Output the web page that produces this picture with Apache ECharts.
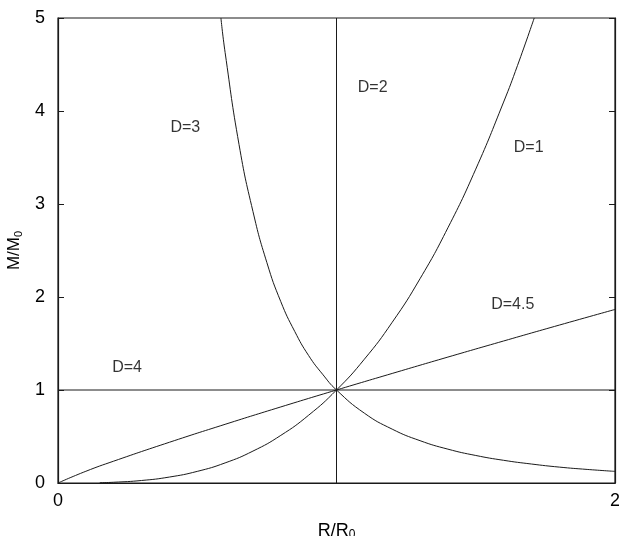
<!DOCTYPE html>
<html>
<head>
<meta charset="utf-8">
<script src="https://cdn.jsdelivr.net/npm/echarts@6/dist/echarts.min.js"></script>
<style>html,body{margin:0;padding:0;background:#fff;overflow:hidden;}#c{position:fixed;left:0;top:0;width:619px;height:536px;}</style>
</head>
<body>
<div id="c"></div>
<script>
// D=1 curve
const d1R = [0.15,0.2,0.3,0.4,0.5,0.6,0.7,0.8,0.9,1.0,1.1,1.2,1.3,1.4,1.5,1.6,1.65,1.71];
const d1M = [0.003,0.008,0.027,0.064,0.125,0.216,0.343,0.512,0.729,1,1.331,1.728,2.197,2.744,3.375,4.096,4.49,5.0];
// D=3 curve
const d3R = [0.585,0.6,0.65,0.7,0.75,0.8,0.85,0.9,0.95,1.0,1.1,1.2,1.3,1.4,1.5,1.6,1.7,1.8,1.9,2.0];
const d3M = [5.0,4.63,3.64,2.92,2.37,1.95,1.63,1.37,1.17,1.0,0.751,0.579,0.455,0.364,0.296,0.244,0.204,0.171,0.146,0.125];
// D=4.5 curve
const d45R = [0,0.1,0.2,0.4,0.6,0.8,1.0,1.2,1.4,1.6,1.8,2.0];
const d45M = [0,0.126,0.235,0.438,0.631,0.818,1.0,1.178,1.354,1.527,1.698,1.866];
// D=2 vertical line, D=4 horizontal line
const d2R = [1,1];
const d2M = [0,5];
const d4R = [0,2];
const d4M = [1,1];
// curve labels
const labelText = ['D=2','D=3','D=1','D=4.5','D=4'];
const labelR = [1.13,0.457,1.69,1.633,0.248];
const labelM = [4.25,3.82,3.61,1.92,1.24];

const zip = (a,b)=>a.map((v,i)=>[v,b[i]]);
const lineStyle = {color:'#1a1a1a', width:1};
const mk = d => ({type:'line', data:d, showSymbol:false, smooth:true, lineStyle:lineStyle, silent:true});
const font = 'Liberation Sans, Arial, Helvetica, sans-serif';

const chart = echarts.init(document.getElementById('c'));
chart.setOption({
  animation:false,
  backgroundColor:'#fff',
  grid:{left:58, right:4, top:18, bottom:53, containLabel:false, outerBoundsMode:'none',
        show:true, borderColor:'#1a1a1a', borderWidth:1.2},
  xAxis:{type:'value', min:0, max:2, interval:2,
    axisLine:{show:true, lineStyle:{color:'#1a1a1a', width:1.2}},
    axisTick:{show:false}, splitLine:{show:false},
    axisLabel:{color:'#000', fontSize:18, fontFamily:font, margin:9},
    name:'{a|R/R}{b|0}', nameLocation:'middle', nameGap:38,
    nameTextStyle:{rich:{a:{fontSize:18,fontFamily:font,color:'#000'},b:{fontSize:12,fontFamily:font,color:'#000',verticalAlign:'bottom',padding:[8,0,0,0]}}}
  },
  yAxis:[{type:'value', min:0, max:5, interval:1,
    axisLine:{show:true, lineStyle:{color:'#1a1a1a', width:1.2}},
    axisTick:{show:true, inside:true, length:6, lineStyle:{color:'#1a1a1a'}},
    splitLine:{show:false},
    axisLabel:{color:'#000', fontSize:18, fontFamily:font, margin:13},
    name:'{a|M/M}{b|0}', nameLocation:'middle', nameGap:23,
    nameTextStyle:{rich:{a:{fontSize:17,fontFamily:font,color:'#000'},b:{fontSize:11,fontFamily:font,color:'#000',verticalAlign:'bottom',padding:[8,0,0,0]}}}
  },{type:'value', min:0, max:5, interval:1, position:'right',
    axisLine:{show:true, lineStyle:{color:'#1a1a1a', width:1.2}},
    axisTick:{show:true, inside:true, length:6, lineStyle:{color:'#1a1a1a'}},
    axisLabel:{show:false}, splitLine:{show:false}}],
  series:[
    mk(zip(d1R,d1M)),
    mk(zip(d3R,d3M)),
    mk(zip(d45R,d45M)),
    {type:'line', data:zip(d2R,d2M), showSymbol:false, lineStyle:lineStyle, silent:true},
    {type:'line', data:zip(d4R,d4M), showSymbol:false, lineStyle:lineStyle, silent:true},
    {type:'scatter', symbolSize:0, silent:true,
     data:labelText.map((t,i)=>({value:[labelR[i],labelM[i]], name:t})),
     label:{show:true, position:'inside', formatter:p=>p.name, color:'#000', fontSize:16, fontFamily:font}}
  ]
});
</script>
</body>
</html>
